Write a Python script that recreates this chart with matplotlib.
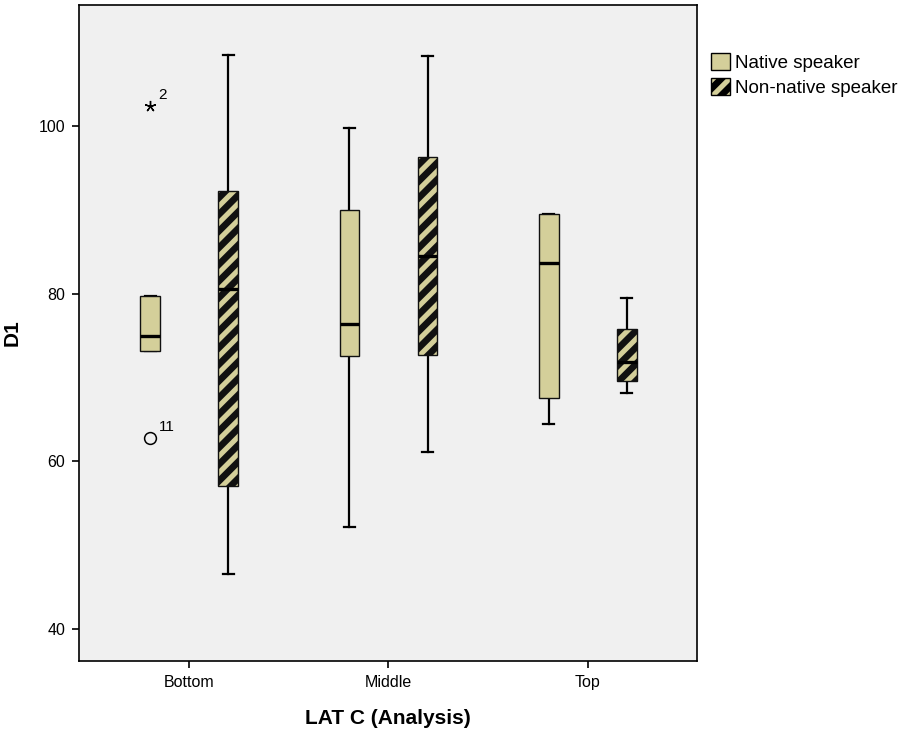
import matplotlib
matplotlib.use("Agg")
from matplotlib import pyplot as plt
from matplotlib.patches import Patch

plt.rcParams['font.family'] = ['Liberation Sans', 'DejaVu Sans']
plt.rcParams['hatch.linewidth'] = 4.8

# values
groups = ["Bottom", "Middle", "Top"]
series = ["Native speaker", "Non-native speaker"]
med = [[74.9, 80.6], [76.4, 84.5], [83.7, 71.8]]
q1 = [[73.1, 57.0], [72.6, 72.7], [67.5, 69.6]]
q3 = [[79.7, 92.3], [90.0, 96.3], [89.5, 75.8]]
whislo = [[73.1, 46.5], [52.2, 61.1], [64.4, 68.1]]
whishi = [[79.7, 108.5], [99.8, 108.3], [89.5, 79.5]]
# outliers: (group, series, value, case label, kind)
outliers = [(0, 0, 102.4, "2", "extreme"), (0, 0, 62.8, "11", "outlier")]

tan = '#D4CF9A'
offset = 0.196

fig = plt.figure(figsize=(9.08, 7.36), dpi=100)
ax = fig.add_axes([79 / 908, 1 - 661 / 736, 618 / 908, 656 / 736])
ax.set_facecolor('#F0F0F0')

stats = []
positions = []
for g in range(len(groups)):
    for s in range(len(series)):
        stats.append(dict(med=med[g][s], q1=q1[g][s], q3=q3[g][s],
                          whislo=whislo[g][s], whishi=whishi[g][s], fliers=[]))
        positions.append(g + (s - 0.5) * 2 * offset)

bp = ax.bxp(stats, positions=positions, widths=0.1, capwidths=0.055,
            patch_artist=True, showfliers=False,
            boxprops=dict(facecolor=tan, edgecolor='#111111', linewidth=1.0),
            medianprops=dict(color='black', linewidth=2.4),
            whiskerprops=dict(color='black', linewidth=1.6),
            capprops=dict(color='black', linewidth=1.6))
for i, box in enumerate(bp['boxes']):
    box.set_zorder(3)
    if i % 2 == 1:
        box.set_hatch('//')
for m in bp['medians']:
    m.set_zorder(4)

for g, s, v, lab, kind in outliers:
    x = g + (s - 0.5) * 2 * offset
    if kind == "extreme":
        ax.plot(x, v, marker=(5, 2, 0), color='black', markersize=8, mew=1.0)
    else:
        ax.plot(x, v, marker='o', mfc='none', mec='black', markersize=8.5, mew=1.1)
    ax.annotate(lab, (x, v), xytext=(6, 5), textcoords='offset points',
                fontsize=11)

ax.set_xlim(-0.554, 2.549)
ax.set_ylim(36.18, 114.43)
ax.set_xticks(range(len(groups)))
ax.set_xticklabels(groups)
ax.set_yticks([40, 60, 80, 100])
ax.tick_params(direction='out', length=5, width=1.2, labelsize=11.5, pad=5)
for sp in ax.spines.values():
    sp.set_linewidth(1.2)

ax.set_xlabel("LAT C (Analysis)", fontsize=15, fontweight='bold', labelpad=14)
ax.set_ylabel("D1", fontsize=15, fontweight='bold')
ax.yaxis.set_label_coords(-57 / 618, 0.5)

handles = [Patch(facecolor=tan, edgecolor='black', linewidth=1.0),
           Patch(facecolor=tan, edgecolor='black', linewidth=1.0, hatch='//')]
fig.legend(handles, series, loc='upper left', bbox_to_anchor=(711 / 908, 1 - 53 / 736),
           frameon=False, fontsize=13.5, handlelength=1.0, handleheight=1.0,
           handletextpad=0.3, labelspacing=0.32, borderpad=0, borderaxespad=0)

fig.savefig("out.png", dpi=100)
